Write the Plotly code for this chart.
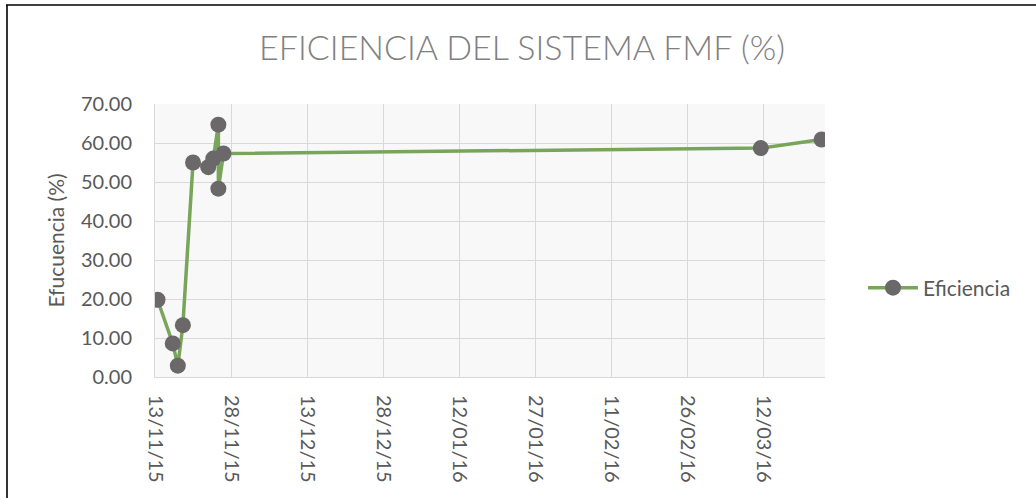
import plotly.graph_objects as go
import pandas as pd

# Data
fechas = ["2015-11-13", "2015-11-16", "2015-11-17", "2015-11-18", "2015-11-20",
          "2015-11-23", "2015-11-24", "2015-11-25", "2015-11-25", "2015-11-26",
          "2016-03-11", "2016-03-23"]
eficiencia = [19.8, 8.6, 2.9, 13.3, 55.0, 53.8, 56.0, 64.7, 48.3, 57.3, 58.7, 60.9]

titulo = "EFICIENCIA DEL SISTEMA FMF (%)"
serie = "Eficiencia"
eje_y = "Efucuencia (%)"

# Excel date axis places each day in the middle of its interval
x = pd.to_datetime(fechas) + pd.Timedelta(hours=12)

FONT = "Lato"
GRAY = "#595959"

fig = go.Figure()
fig.add_trace(go.Scatter(
    x=x, y=eficiencia, mode="lines+markers", name=serie,
    line=dict(color="#78a55a", width=3.5),
    marker=dict(color="#6b6869", size=16),
))

L, R, T, B = 155, 211, 104, 121
W, H = 1036, 498
pw, ph = W - L - R, H - T - B

def px_x(v):
    return (v - L) / pw

def px_y(v):
    return (H - B - v) / ph

border = dict(color="black", width=1.6)

fig.update_layout(
    width=W, height=H,
    margin=dict(l=L, r=R, t=T, b=B),
    paper_bgcolor="white",
    plot_bgcolor="#f8f8f8",
    font=dict(family=FONT, color=GRAY, size=20),
    title=dict(text=titulo, x=px_x(522), xref="paper", xanchor="center",
               y=1 - 48 / H, yref="container", yanchor="middle",
               font=dict(family=FONT, size=34, color="#808080", weight=300)),
    showlegend=True,
    legend=dict(x=px_x(863), y=px_y(288), xanchor="left", yanchor="middle",
                font=dict(size=21, color=GRAY), bgcolor="rgba(0,0,0,0)",
                itemwidth=50),
    xaxis=dict(
        type="date",
        range=["2015-11-13", "2016-03-24 04:00"],
        tick0="2015-11-13", dtick=15 * 86400000,
        tickformat="%d/%m/%y", tickangle=90,
        showgrid=True, gridcolor="#d9d9d9", gridwidth=1,
        showline=True, linecolor="#d9d9d9", linewidth=1,
        ticks="", ticklabelstandoff=13,
        tickfont=dict(size=20, color=GRAY),
        zeroline=False,
    ),
    yaxis=dict(
        range=[0, 70], dtick=10, tickformat=".2f",
        showgrid=True, gridcolor="#d9d9d9", gridwidth=1,
        showline=True, linecolor="#d9d9d9", linewidth=1,
        ticks="", ticklabelstandoff=18,
        tickfont=dict(size=20, color=GRAY),
        title=dict(text=eje_y, font=dict(size=21, color=GRAY), standoff=10),
        zeroline=False,
    ),
    shapes=[
        dict(type="line", xref="paper", yref="paper",
             x0=px_x(6), x1=px_x(1040), y0=px_y(5), y1=px_y(5), line=border),
        dict(type="line", xref="paper", yref="paper",
             x0=px_x(7), x1=px_x(7), y0=px_y(5), y1=px_y(505), line=border),
    ],
)

fig.write_html("out.html",
               config={"displayModeBar": False},
               post_script="document.body.style.margin='0px';document.body.style.overflow='hidden';")
